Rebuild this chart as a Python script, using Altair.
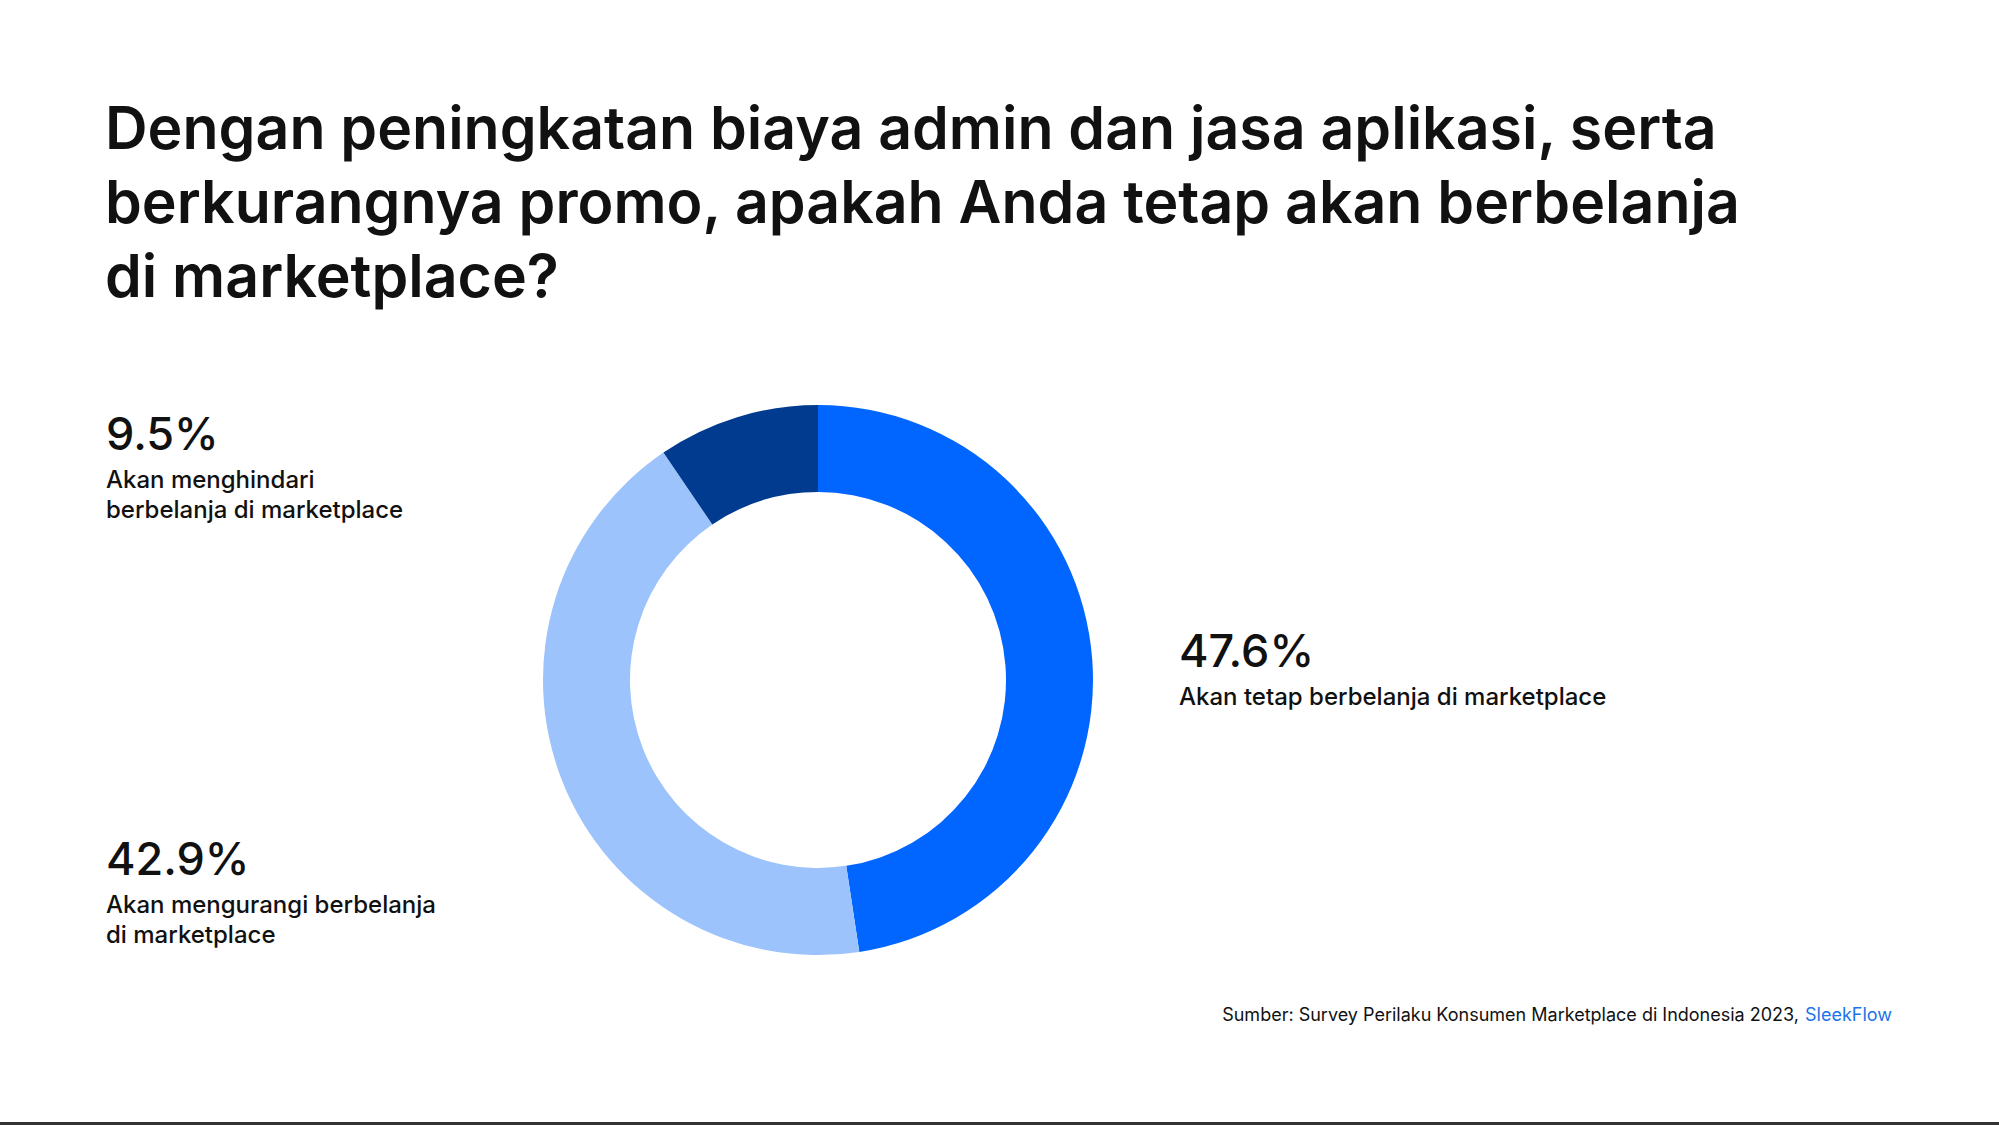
import altair as alt
import pandas as pd

# ---- data ----
categories = [
    "Akan tetap berbelanja di marketplace",
    "Akan mengurangi berbelanja di marketplace",
    "Akan menghindari berbelanja di marketplace",
]
values = [47.6, 42.9, 9.5]
label_texts = [
    "Akan tetap berbelanja di marketplace",
    "Akan mengurangi berbelanja\ndi marketplace",
    "Akan menghindari\nberbelanja di marketplace",
]
colors = ["#0066FF", "#9CC3FB", "#003B8F"]
title_text = ("Dengan peningkatan biaya admin dan jasa aplikasi, serta\n"
              "berkurangnya promo, apakah Anda tetap akan berbelanja\n"
              "di marketplace?")
source_text = "Sumber: Survey Perilaku Konsumen Marketplace di Indonesia 2023,"
source_link = "SleekFlow"

W, H = 1999, 1125
FONT = "Inter"

df = pd.DataFrame({"category": categories, "value": values,
                   "order": list(range(len(categories))),
                   "label": label_texts})
df["pct"] = df["value"].map(lambda v: f"{v:.1f}%")

donut = alt.Chart(df).mark_arc(radius=275, radius2=188, strokeWidth=0).encode(
    x=alt.value(818), y=alt.value(680),
    theta=alt.Theta("value:Q", stack=True),
    order=alt.Order("order:Q"),
    color=alt.Color("category:N", scale=alt.Scale(domain=categories, range=colors), legend=None),
)

# label layout (positions only)
label_pos = {
    categories[0]: (1179, 667),
    categories[1]: (106, 875),
    categories[2]: (106, 450),
}

layers = [donut]
for cat, (px, py) in label_pos.items():
    sub = df[df["category"] == cat]
    pct = alt.Chart(sub).mark_text(font=FONT, fontSize=45, fontWeight=500, align="left",
                                   baseline="alphabetic", color="#111111").encode(
        x=alt.value(px), y=alt.value(py), text="pct:N")
    desc = alt.Chart(sub).mark_text(font=FONT, fontSize=24, fontWeight=500, align="left",
                                    baseline="alphabetic", color="#111111", lineBreak="\n",
                                    lineHeight=30).encode(
        x=alt.value(px), y=alt.value(py + 38), text="label:N")
    layers += [pct, desc]

title = alt.Chart(pd.DataFrame({"t": [title_text]})).mark_text(
    font=FONT, fontSize=59, fontWeight=600, align="left", baseline="alphabetic",
    color="#111111", lineBreak="\n", lineHeight=74).encode(
    x=alt.value(105), y=alt.value(149), text="t:N")

src = alt.Chart(pd.DataFrame({"t": [source_text]})).mark_text(
    font=FONT, fontSize=18, align="right", baseline="alphabetic", color="#111111").encode(
    x=alt.value(1799), y=alt.value(1021), text="t:N")
src_link = alt.Chart(pd.DataFrame({"t": [source_link]})).mark_text(
    font=FONT, fontSize=18, align="left", baseline="alphabetic", color="#1A73E8").encode(
    x=alt.value(1805), y=alt.value(1021), text="t:N")

bottom_rule = alt.Chart(pd.DataFrame({"a": [0]})).mark_rule(color="#333333", strokeWidth=3).encode(
    x=alt.value(0), x2=alt.value(W), y=alt.value(1123.5))

chart = alt.layer(*layers, title, src, src_link, bottom_rule).properties(
    width=W, height=H, padding=0, autosize=alt.AutoSizeParams(type="none"),
    background="white",
).configure_view(stroke=None)

chart.save("out.html", embed_options={"renderer": "svg", "actions": False})
